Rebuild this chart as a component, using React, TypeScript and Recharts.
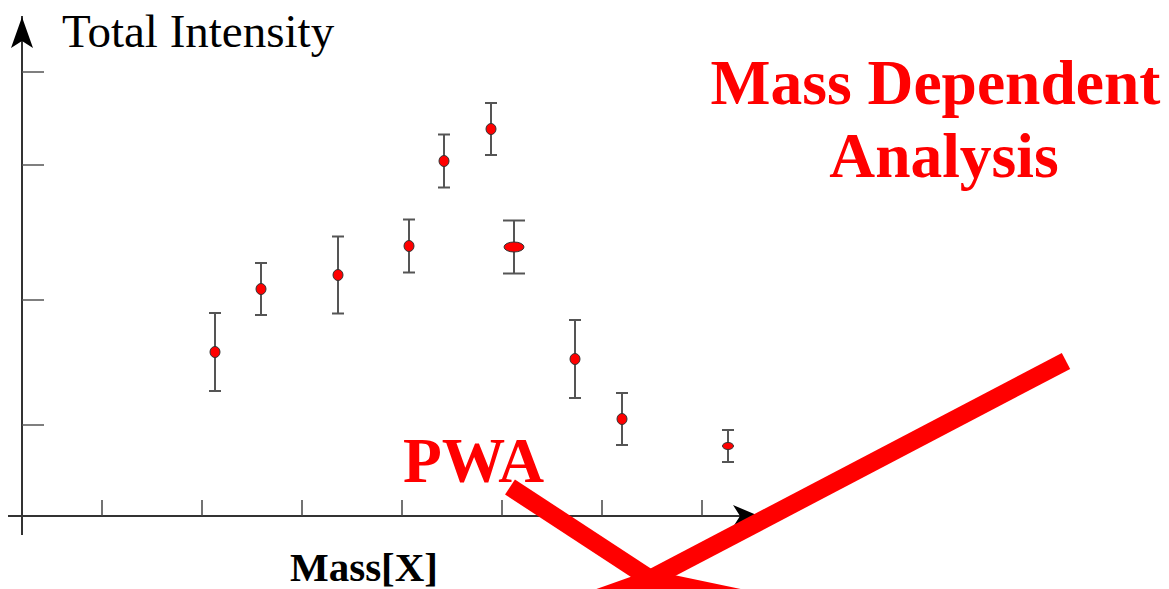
import { ComposedChart, ErrorBar, Scatter, XAxis, YAxis } from "recharts";

// mass positions (axis units) and total intensity with symmetric errors
const massMain = [1.93, 2.39, 3.16, 3.87, 4.22, 4.69, 5.53, 6.0];
const intensityMain = [1.64, 2.27, 2.41, 2.7, 3.55, 3.87, 1.57, 0.97];
const errorMain = [0.39, 0.26, 0.385, 0.265, 0.265, 0.26, 0.39, 0.26];

const massWide = [4.92];
const intensityWide = [2.69];
const errorWide = [0.265];

const massSmall = [7.06];
const intensitySmall = [0.7];
const errorSmall = [0.16];

const xTicks = [0.8, 1.8, 2.8, 3.8, 4.8, 5.8, 6.8];
const yTicks = [0.91, 2.16, 3.51, 4.44];

const toRows = (xs: number[], ys: number[], es: number[]) =>
  xs.map((x, i) => ({ x, y: ys[i], err: es[i] }));

const mainData = toRows(massMain, intensityMain, errorMain);
const wideData = toRows(massWide, intensityWide, errorWide);
const smallData = toRows(massSmall, intensitySmall, errorSmall);

const W = 1169;
const H = 589;
const RED = "#ff0000";
const serif = '"Liberation Serif", "Times New Roman", serif';

const ellipse = (rx: number, ry: number) => (props: any) => {
  const { cx, cy } = props;
  if (cx == null || cy == null) return <g />;
  return <ellipse cx={cx} cy={cy} rx={rx} ry={ry} fill={RED} stroke="#333" strokeWidth={1} />;
};

const noLabel = () => "";

export default function App() {
  return (
    <div style={{ position: "absolute", left: 0, top: 0, width: W, height: H, background: "#fff" }}>
      <ComposedChart width={W} height={H} margin={{ top: 16, right: 407, left: 0, bottom: 53 }}>
        <XAxis
          type="number"
          dataKey="x"
          domain={[0, 7.4]}
          ticks={xTicks}
          tickFormatter={noLabel}
          tick={{ fontSize: 1 }}
          tickSize={-16}
          height={20}
          axisLine={{ stroke: "#333", strokeWidth: 2 }}
          tickLine={{ stroke: "#444", strokeWidth: 1.5 }}
          interval={0}
          allowDataOverflow
        />
        <YAxis
          type="number"
          dataKey="y"
          domain={[0, 5]}
          ticks={yTicks}
          tickFormatter={noLabel}
          tick={{ fontSize: 1 }}
          tickSize={-22}
          width={22}
          axisLine={{ stroke: "#333", strokeWidth: 2 }}
          tickLine={{ stroke: "#555", strokeWidth: 1.5 }}
          interval={0}
          allowDataOverflow
        />
        <Scatter data={mainData} shape={ellipse(5, 5.5)} isAnimationActive={false}>
          <ErrorBar dataKey="err" direction="y" width={6} stroke="#555" strokeWidth={2} />
        </Scatter>
        <Scatter data={wideData} shape={ellipse(10, 5)} isAnimationActive={false}>
          <ErrorBar dataKey="err" direction="y" width={11} stroke="#555" strokeWidth={2} />
        </Scatter>
        <Scatter data={smallData} shape={ellipse(5.5, 3.5)} isAnimationActive={false}>
          <ErrorBar dataKey="err" direction="y" width={6} stroke="#555" strokeWidth={2} />
        </Scatter>
      </ComposedChart>

      <svg
        width={W}
        height={H}
        style={{ position: "absolute", left: 0, top: 0, pointerEvents: "none", overflow: "hidden" }}
      >
        {/* axis extensions and arrowheads */}
        <line x1={8} y1={516} x2={22} y2={516} stroke="#333" strokeWidth={2} />
        <line x1={22} y1={516} x2={22} y2={535} stroke="#333" strokeWidth={2} />
        <path d="M22,17 L11,48 L22,41 L33,48 Z" fill="#000" />
        <path d="M759,516 L733,505 L740,516 L733,527 Z" fill="#000" />

        <text x={62} y={47} fontFamily={serif} fontSize={47} fill="#000">
          Total Intensity
        </text>
        <text x={935.5} y={104} textAnchor="middle" fontFamily={serif} fontSize={63.5} fontWeight="bold" fill={RED}>
          Mass Dependent
        </text>
        <text x={944} y={177} textAnchor="middle" fontFamily={serif} fontSize={63.5} fontWeight="bold" fill={RED}>
          Analysis
        </text>
        <text x={403} y={482} fontFamily={serif} fontSize={63.5} fontWeight="bold" fill={RED}>
          PWA
        </text>
        <text x={290} y={581} fontFamily={serif} fontSize={41} fontWeight="bold" fill="#000">
          Mass[X]
        </text>

        {/* red arrows */}
        <line x1={510} y1={487} x2={652} y2={580} stroke={RED} strokeWidth={18} />
        <line x1={1066} y1={361} x2={648} y2={580} stroke={RED} strokeWidth={18} />
        <polygon points="588,592 650,570 755,592 660,620" fill={RED} />
      </svg>
    </div>
  );
}
